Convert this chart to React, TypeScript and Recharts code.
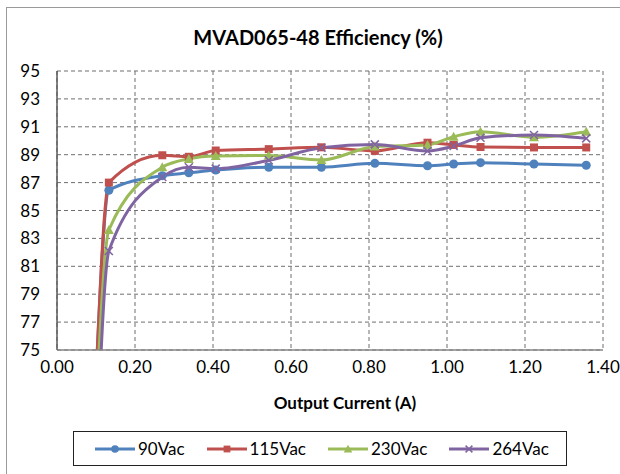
import React from 'react';
import {
  LineChart,
  Line,
  XAxis,
  YAxis,
  CartesianGrid,
  Legend,
} from 'recharts';

// output current (A), shared by all four input voltages
const current = [0.1, 0.133, 0.27, 0.338, 0.407, 0.543, 0.678, 0.815, 0.95, 1.017, 1.086, 1.223, 1.357];

// efficiency (%) per input voltage
const eff90 = [73.0, 86.45, 87.5, 87.7, 87.9, 88.1, 88.1, 88.38, 88.21, 88.33, 88.43, 88.33, 88.24];
const eff115 = [72.9, 87.0, 88.96, 88.85, 89.3, 89.4, 89.53, 89.27, 89.86, 89.7, 89.55, 89.52, 89.52];
const eff230 = [70.7, 83.6, 88.1, 88.7, 88.9, 88.94, 88.62, 89.58, 89.7, 90.29, 90.65, 90.25, 90.65];
const eff264 = [66.5, 82.1, 87.4, 88.1, 88.0, 88.6, 89.5, 89.74, 89.27, 89.62, 90.22, 90.41, 90.17];

const seriesNames = ['90Vac', '115Vac', '230Vac', '264Vac'];
const xTicks = [0, 0.2, 0.4, 0.6, 0.8, 1.0, 1.2, 1.4];
const yTicks = [75, 77, 79, 81, 83, 85, 87, 89, 91, 93, 95];

const rows = current.map((x, i) => ({
  x,
  v90: eff90[i],
  v115: eff115[i],
  v230: eff230[i],
  v264: eff264[i],
}));

const SERIES = [
  { key: 'v90', name: seriesNames[0], color: '#4F81BD', shape: 'circle' },
  { key: 'v115', name: seriesNames[1], color: '#C0504D', shape: 'square' },
  { key: 'v230', name: seriesNames[2], color: '#9BBB59', shape: 'triangle' },
  { key: 'v264', name: seriesNames[3], color: '#8064A2', shape: 'cross' },
];

const FONT = 'Lato, "Open Sans", sans-serif';

function Marker({ cx, cy, color, shape, s = 1 }: any) {
  if (cx == null || cy == null) return null;
  if (shape === 'circle') return <circle cx={cx} cy={cy} r={4.5 * s} fill={color} />;
  if (shape === 'square')
    return <rect x={cx - 4 * s} y={cy - 4 * s} width={8 * s} height={8 * s} fill={color} />;
  if (shape === 'triangle')
    return (
      <polygon
        points={`${cx},${cy - 5 * s} ${cx + 5 * s},${cy + 4 * s} ${cx - 5 * s},${cy + 4 * s}`}
        fill={color}
      />
    );
  return (
    <g stroke={color} strokeWidth={1.5}>
      <line x1={cx - 4 * s} y1={cy - 4 * s} x2={cx + 4 * s} y2={cy + 4 * s} />
      <line x1={cx - 4 * s} y1={cy + 4 * s} x2={cx + 4 * s} y2={cy - 4 * s} />
    </g>
  );
}

function LegendBox() {
  return (
    <div
      style={{
        boxSizing: 'border-box',
        width: 494,
        height: 35,
        border: '1.5px solid #222',
        display: 'flex',
        alignItems: 'center',
        paddingLeft: 21,
        gap: 22,
        fontFamily: FONT,
        fontSize: 17,
        color: '#000',
        background: '#fff',
      }}
    >
      {SERIES.map((s) => (
        <div key={s.key} style={{ display: 'flex', alignItems: 'center' }}>
          <svg width={40} height={12}>
            <line x1={0} y1={6} x2={40} y2={6} stroke={s.color} strokeWidth={3} />
            <Marker cx={20} cy={6} color={s.color} shape={s.shape} s={0.85} />
          </svg>
          <span style={{ marginLeft: 3 }}>{s.name}</span>
        </div>
      ))}
    </div>
  );
}

export default function App() {
  return (
    <div
      style={{
        position: 'absolute',
        left: 0,
        top: 0,
        width: 620,
        height: 474,
        overflow: 'hidden',
        background: '#fff',
        fontFamily: FONT,
      }}
    >
      <div
        style={{
          position: 'absolute',
          left: 6,
          top: 7,
          width: 640,
          height: 500,
          borderLeft: '1.5px solid #9a9a9a',
          borderTop: '1.5px solid #9a9a9a',
        }}
      />
      <div
        style={{
          position: 'absolute',
          left: 0,
          width: 636,
          top: 25,
          textAlign: 'center',
          fontSize: 20,
          fontWeight: 700,
          color: '#000',
        }}
      >
        MVAD065-48 Efficiency (%)
      </div>
      <div
        style={{
          position: 'absolute',
          left: 0,
          width: 690,
          top: 392,
          textAlign: 'center',
          fontSize: 17,
          fontWeight: 700,
          color: '#000',
        }}
      >
        Output Current (A)
      </div>
      <div style={{ position: 'absolute', left: 0, top: 0 }}>
        <LineChart
          width={620}
          height={474}
          data={rows}
          margin={{ top: 71, right: 17, bottom: 94, left: 0 }}
        >
          <CartesianGrid stroke="#6f6f6f" strokeDasharray="4 3" />
          <XAxis
            dataKey="x"
            type="number"
            domain={[0, 1.4]}
            ticks={xTicks}
            interval={0}
            allowDataOverflow
            tickFormatter={(v: number) => v.toFixed(2)}
            tickLine={false}
            tickSize={0}
            tickMargin={11}
            height={30}
            axisLine={{ stroke: '#868686', strokeWidth: 1.5 }}
            tick={{ fill: '#000', fontSize: 17, fontFamily: FONT }}
          />
          <XAxis
            xAxisId="top"
            orientation="top"
            type="number"
            domain={[0, 1.4]}
            height={0}
            tick={false}
            tickLine={false}
            axisLine={{ stroke: '#333', strokeWidth: 1.5 }}
          />
          <YAxis
            domain={[75, 95]}
            ticks={yTicks}
            interval={0}
            allowDataOverflow
            width={57}
            tickLine={false}
            tickSize={0}
            tickMargin={17}
            axisLine={{ stroke: '#5a5a5a', strokeWidth: 1.5 }}
            tick={{ fill: '#000', fontSize: 17, fontFamily: FONT }}
          />
          <YAxis
            yAxisId="right"
            orientation="right"
            domain={[75, 95]}
            width={0}
            tick={false}
            tickLine={false}
            axisLine={{ stroke: '#333', strokeWidth: 1.5 }}
          />
          {SERIES.map((s) => (
            <Line
              key={s.key}
              type="monotone"
              dataKey={s.key}
              name={s.name}
              stroke={s.color}
              strokeWidth={3}
              isAnimationActive={false}
              activeDot={false}
              dot={(p: any) => (
                <Marker key={`${s.key}-${p.index}`} cx={p.cx} cy={p.cy} color={s.color} shape={s.shape} />
              )}
            />
          ))}
          <Legend
            verticalAlign="middle"
            content={() => <LegendBox />}
            wrapperStyle={{ left: 73, top: 431, width: 494, height: 35 }}
          />
        </LineChart>
      </div>
    </div>
  );
}
